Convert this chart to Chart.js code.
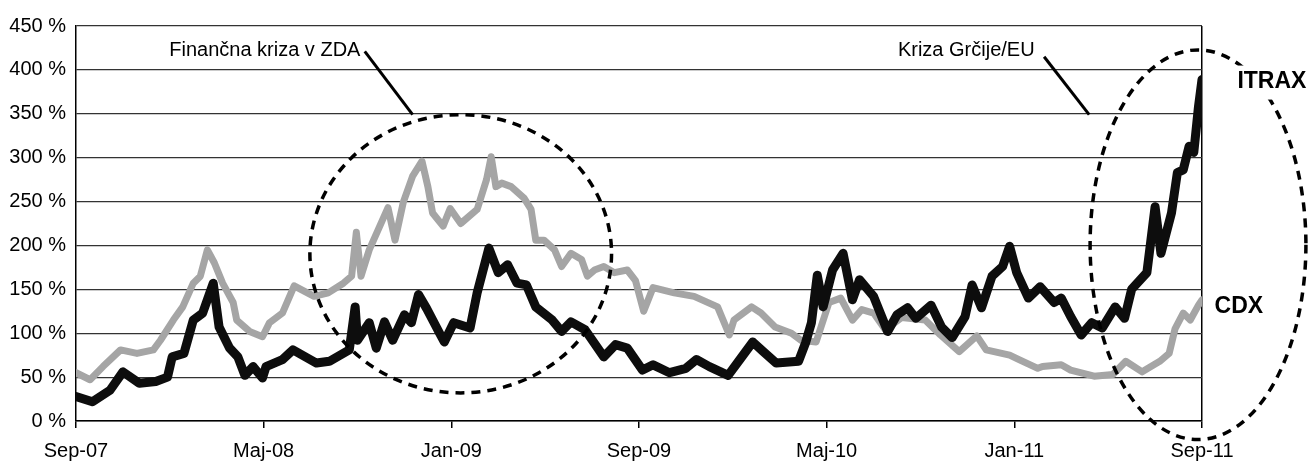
<!DOCTYPE html>
<html>
<head>
<meta charset="utf-8">
<script src="https://cdn.jsdelivr.net/npm/chart.js@4.4.1/dist/chart.umd.min.js"></script>
<style>
  html, body { margin: 0; padding: 0; background: #fff; }
  #wrap { width: 1312px; height: 463px; position: relative; }
</style>
</head>
<body>
<div id="wrap"><canvas id="chart"></canvas></div>
<script>
// ===== DATA (x = months since Sep-07, y = %) =====
const xLabels = ['Sep-07', 'Maj-08', 'Jan-09', 'Sep-09', 'Maj-10', 'Jan-11', 'Sep-11'];
const yTicks = [0, 50, 100, 150, 200, 250, 300, 350, 400, 450];

const itraxX = [0, 0.7, 1.45, 2.0, 2.7, 3.4, 3.9, 4.1, 4.6, 5.0, 5.4, 5.85, 6.1, 6.55, 6.9, 7.2, 7.55, 7.95, 8.1, 8.8,
  9.25, 10.25, 10.8, 11.65, 11.9, 12.0, 12.5, 12.8, 13.15, 13.5, 14.0, 14.3, 14.6, 14.95, 15.5, 15.7, 16.1, 16.8, 17.1, 17.6,
  18.0, 18.4, 18.8, 19.2, 19.6, 20.3, 20.7, 21.1, 21.7, 22.5, 23.0, 23.5, 24.15, 24.6, 25.3, 26.0, 26.45, 27.0, 27.8, 28.3,
  28.85, 29.3, 29.85, 30.8, 31.1, 31.35, 31.6, 31.85, 32.25, 32.7, 33.1, 33.4, 34.0, 34.6, 35.0, 35.45, 35.8, 36.45, 36.9, 37.35,
  37.9, 38.2, 38.6, 39.05, 39.5, 39.8, 40.1, 40.6, 41.1, 41.7, 42.0, 42.4, 42.85, 43.3, 43.75, 44.3, 44.7, 45.0, 45.65, 46.0,
  46.25, 46.7, 46.95, 47.2, 47.45, 47.65, 47.85, 48];
const itraxY = [28, 22, 35, 56, 43, 45, 50, 73, 77, 115, 123, 157, 107, 83, 73, 52, 62, 49, 62, 70,
  81, 66, 68, 81, 130, 92, 112, 83, 113, 92, 121, 112, 144, 128, 100, 90, 112, 106, 146, 197,
  169, 178, 157, 155, 130, 115, 102, 113, 104, 73, 87, 83, 58, 64, 55, 60, 70, 62, 52, 70,
  90, 79, 66, 68, 89, 112, 166, 130, 172, 191, 138, 161, 142, 102, 121, 129, 117, 132, 107, 95,
  119, 155, 129, 165, 176, 199, 169, 140, 153, 135, 140, 119, 98, 112, 106, 130, 117, 150, 169, 244,
  191, 237, 283, 286, 313, 306, 358, 389];

const cdxX = [0, 0.6, 1.15, 1.9, 2.6, 3.3, 3.6, 4.15, 4.55, 5.0, 5.3, 5.6, 5.9, 6.25, 6.7, 6.85, 7.4, 7.95, 8.25, 8.8,
  9.3, 10.15, 10.75, 11.4, 11.75, 11.95, 12.15, 12.5, 12.95, 13.3, 13.6, 13.95, 14.35, 14.75, 15.0, 15.2, 15.65, 15.95, 16.4, 17.1,
  17.5, 17.7, 17.9, 18.15, 18.55, 19.1, 19.4, 19.6, 19.95, 20.4, 20.7, 21.1, 21.55, 21.8, 22.1, 22.5, 22.95, 23.5, 23.85, 24.2,
  24.6, 25.5, 26.35, 27.35, 27.85, 28.05, 28.8, 29.2, 29.8, 30.5, 30.9, 31.55, 32.1, 32.6, 33.1, 33.5, 34.0, 34.5, 35.2, 36.2,
  36.85, 37.65, 38.4, 38.8, 39.8, 40.2, 41.0, 41.2, 42.0, 42.4, 43.4, 44.2, 44.75, 45.45, 46.2, 46.6, 46.85, 47.2, 47.5, 47.85, 48];
const cdxY = [55, 47, 62, 81, 77, 81, 92, 115, 130, 157, 165, 195, 180, 157, 135, 115, 102, 96, 112, 123,
  154, 142, 146, 157, 165, 215, 165, 195, 222, 243, 206, 249, 279, 296, 267, 237, 222, 242, 225, 241,
  275, 301, 267, 271, 267, 254, 241, 206, 206, 195, 176, 191, 184, 165, 172, 176, 169, 172, 160, 125,
  152, 146, 142, 130, 98, 115, 130, 123, 107, 100, 92, 90, 135, 140, 115, 127, 123, 104, 118, 115,
  98, 79, 97, 81, 75, 70, 60, 62, 64, 58, 51, 53, 68, 56, 68, 77, 105, 123, 115, 132, 138];

const FONT = "'Liberation Sans', Arial, sans-serif";

// annotation shapes, in data units (months, %)
const ellipses = [
  { cx: 16.4, cy: 190.5, rx: 6.43, ry: 158.5 },
  { cx: 47.83, cy: 200.8, rx: 4.6, ry: 222 }
];
const notes = [
  { text: 'Finančna kriza v ZDA', x: 8.05, y: 422, from: [12.31, 421], to: [14.35, 349] },
  { text: 'Kriza Grčije/EU', x: 37.95, y: 422, from: [41.27, 415], to: [43.19, 349] }
];
const seriesTags = [
  { text: 'ITRAX', x: 50.98, y: 386.7, knockout: true },
  { text: 'CDX', x: 49.57, y: 130, knockout: false }
];

const toPoints = (xs, ys) => xs.map((x, i) => ({ x, y: ys[i] }));

const annotate = {
  id: 'annotate',
  afterDraw(chart) {
    const { ctx, scales: { x, y } } = chart;
    ctx.save();
    ctx.strokeStyle = '#000';
    ctx.lineWidth = 3.5;
    ctx.setLineDash([9, 7]);
    ellipses.forEach(e => {
      const cx = x.getPixelForValue(e.cx), cy = y.getPixelForValue(e.cy);
      const rx = x.getPixelForValue(e.cx + e.rx) - cx;
      const ry = cy - y.getPixelForValue(e.cy + e.ry);
      ctx.beginPath();
      ctx.ellipse(cx, cy, rx, ry, 0, 0, Math.PI * 2);
      ctx.stroke();
    });
    ctx.setLineDash([]);

    ctx.fillStyle = '#000';
    ctx.font = '20px ' + FONT;
    ctx.textAlign = 'center';
    ctx.textBaseline = 'middle';
    notes.forEach(n => {
      ctx.fillText(n.text, x.getPixelForValue(n.x), y.getPixelForValue(n.y));
      ctx.lineWidth = 3;
      ctx.beginPath();
      ctx.moveTo(x.getPixelForValue(n.from[0]), y.getPixelForValue(n.from[1]));
      ctx.lineTo(x.getPixelForValue(n.to[0]), y.getPixelForValue(n.to[1]));
      ctx.stroke();
    });

    ctx.font = 'bold 23px ' + FONT;
    seriesTags.forEach(t => {
      const px = x.getPixelForValue(t.x), py = y.getPixelForValue(t.y);
      if (t.knockout) {
        const w = ctx.measureText(t.text).width;
        ctx.fillStyle = '#fff';
        ctx.fillRect(px - w / 2 - 4, py - 16, w + 8, 34);
        ctx.fillStyle = '#000';
      }
      ctx.fillText(t.text, px, py);
    });
    ctx.restore();
  }
};

new Chart(document.getElementById('chart'), {
  type: 'line',
  data: {
    datasets: [
      {
        label: 'ITRAX',
        data: toPoints(itraxX, itraxY),
        borderColor: '#0d0d0d',
        borderWidth: 9,
        pointRadius: 0,
        tension: 0,
        borderJoinStyle: 'round',
        borderCapStyle: 'round'
      },
      {
        label: 'CDX',
        data: toPoints(cdxX, cdxY),
        borderColor: '#a5a5a5',
        borderWidth: 7,
        pointRadius: 0,
        tension: 0,
        borderJoinStyle: 'round',
        borderCapStyle: 'round'
      }
    ]
  },
  options: {
    responsive: true,
    maintainAspectRatio: false,
    animation: false,
    layout: { padding: { left: 0, right: 110, top: 26, bottom: 0 } },
    plugins: {
      legend: { display: false },
      tooltip: { enabled: false }
    },
    scales: {
      x: {
        type: 'linear',
        min: 0,
        max: 48,
        afterFit: s => { s.height = 42; },
        afterBuildTicks: s => { s.ticks = xLabels.map((_, i) => ({ value: i * 8 })); },
        border: { display: true, color: '#000', width: 1.5 },
        grid: {
          drawOnChartArea: true,
          color: c => (c.tick && c.tick.value === 48 ? '#000' : 'transparent'),
          tickColor: '#000',
          tickLength: 7,
          lineWidth: 1.5
        },
        ticks: {
          maxRotation: 0,
          padding: 11,
          color: '#000',
          font: { family: FONT, size: 20 },
          callback: v => xLabels[v / 8]
        }
      },
      y: {
        min: 0,
        max: 450,
        afterFit: s => { s.width = 76; },
        afterBuildTicks: s => { s.ticks = yTicks.map(v => ({ value: v })); },
        border: { display: true, color: '#000', width: 1.5 },
        grid: { color: '#333', lineWidth: 1.2, drawTicks: false },
        ticks: {
          padding: 10,
          color: '#000',
          font: { family: FONT, size: 20 },
          callback: v => v + ' %'
        }
      }
    }
  },
  plugins: [annotate]
});
</script>
</body>
</html>
